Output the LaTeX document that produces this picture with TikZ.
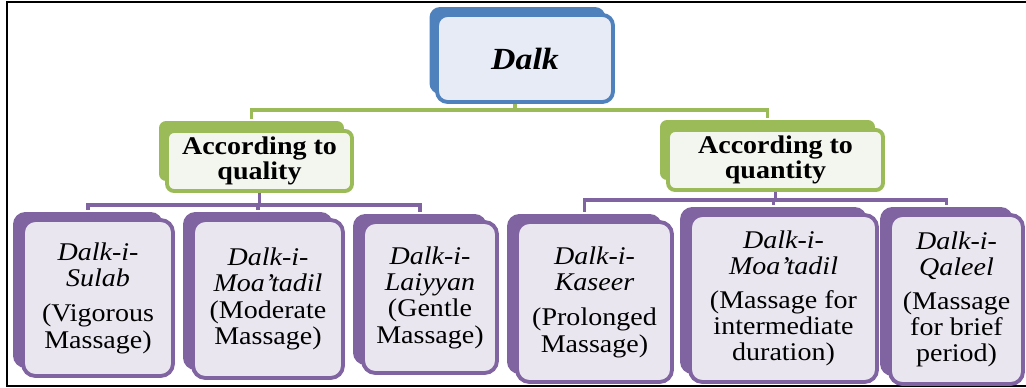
\documentclass[tikz,border=0pt]{standalone}
\usepackage{fontspec}
\setmainfont{Liberation Serif}[FakeStretch=1.1]
\usetikzlibrary{shadows}
\definecolor{blueD}{HTML}{4F81BD}
\definecolor{blueL}{HTML}{E6EBF5}
\definecolor{greenD}{HTML}{9BBB59}
\definecolor{greenL}{HTML}{F3F6EE}
\definecolor{purpD}{HTML}{8064A2}
\definecolor{purpL}{HTML}{EAE6F0}
\begin{document}
\begin{tikzpicture}[x=0.02cm, y=-0.02cm,
    box/.style = {rounded corners=6pt, line width=2.2pt, align=center, inner sep=0pt},
    top/.style = {box, draw=blueD, fill=blueL, minimum width=3.52cm, minimum height=1.74cm,
        copy shadow={shadow xshift=-0.15cm, shadow yshift=0.16cm, fill=blueD, draw=none},
        font=\fontsize{17.5}{19}\selectfont\bfseries\itshape},
    mid/.style = {box, rounded corners=4pt, draw=greenD, fill=greenL, minimum height=1.2cm,
        copy shadow={shadow xshift=-0.16cm, shadow yshift=0.2cm, fill=greenD, draw=none},
        font=\fontsize{14.5}{13}\selectfont\bfseries},
    leaf/.style = {box, rounded corners=7pt, draw=purpD, fill=purpL,
        copy shadow={shadow xshift=-0.2cm, shadow yshift=0.16cm, fill=purpD, draw=none},
        font=\fontsize{14.5}{15}\selectfont},
    gline/.style = {draw=greenD, line width=2.2pt},
    pline/.style = {draw=purpD, line width=2.2pt}]
    \useasboundingbox (0,0) rectangle (1026,388);
    \draw[line width=1.6pt] (1040,2) -- (7,2) -- (7,386) -- (1040,386);

    \node[top] (dalk) at (525,58.5) {Dalk};

    \node[mid, minimum width=3.7cm] (qual) at (259.5,161) {According to\\quality};
    \node[mid, minimum width=4.3cm] (quan) at (775.5,160) {According to\\quantity};

    \node[leaf, minimum width=3cm, minimum height=3.12cm] (sulab) at (98,298)
        {\textit{Dalk-i-}\\\textit{Sulab}\\[5pt](Vigorous\\Massage)};
    \node[leaf, minimum width=3cm, minimum height=3.16cm] (moa) at (268,299)
        {\textit{Dalk-i-}\\\textit{Moa'tadil}\\(Moderate\\Massage)};
    \node[leaf, minimum width=2.68cm, minimum height=3.02cm] (laiy) at (430,297.5)
        {\textit{Dalk-i-}\\\textit{Laiyyan}\\(Gentle\\Massage)};
    \node[leaf, minimum width=3.1cm, minimum height=3.2cm] (kas) at (594.5,302)
        {\textit{Dalk-i-}\\\textit{Kaseer}\\[5pt](Prolonged\\Massage)};
    \node[leaf, minimum width=3.74cm, minimum height=3.34cm] (moab) at (783.5,298.5)
        {\textit{Dalk-i-}\\\textit{Moa'tadil}\\[4pt](Massage for\\intermediate\\duration)};
    \node[leaf, minimum width=2.66cm, minimum height=3.38cm] (qal) at (956.5,299.5)
        {\textit{Dalk-i-}\\\textit{Qaleel}\\[4pt](Massage\\for brief\\period)};

    % green links
    \draw[gline] ([xshift=-0.2cm]dalk.south) -- ++(0,6) -| ([shift={(-8,-10)}]qual.north);
    \draw[gline] ([xshift=-0.2cm]dalk.south) -- ++(0,6) -| ([shift={(-8,-10)}]quan.north);

    % purple links
    \draw[pline] (qual.south) -- ++(0,12) -| ([shift={(-10,-8)}]sulab.north);
    \draw[pline] (qual.south) -- ++(0,12) -| ([shift={(-10,-8)}]moa.north);
    \draw[pline] (qual.south) -- ++(0,12) -| ([shift={(-10,-8)}]laiy.north);

    \draw[pline] (quan.south) -- ++(0,8) -| ([shift={(-10,-8)}]kas.north);
    \draw[pline] (quan.south) -- ++(0,8) -| ([shift={(-10,-8)}]moab.north);
    \draw[pline] (quan.south) -- ++(0,8) -| ([shift={(-10,-8)}]qal.north);
\end{tikzpicture}
\end{document}
